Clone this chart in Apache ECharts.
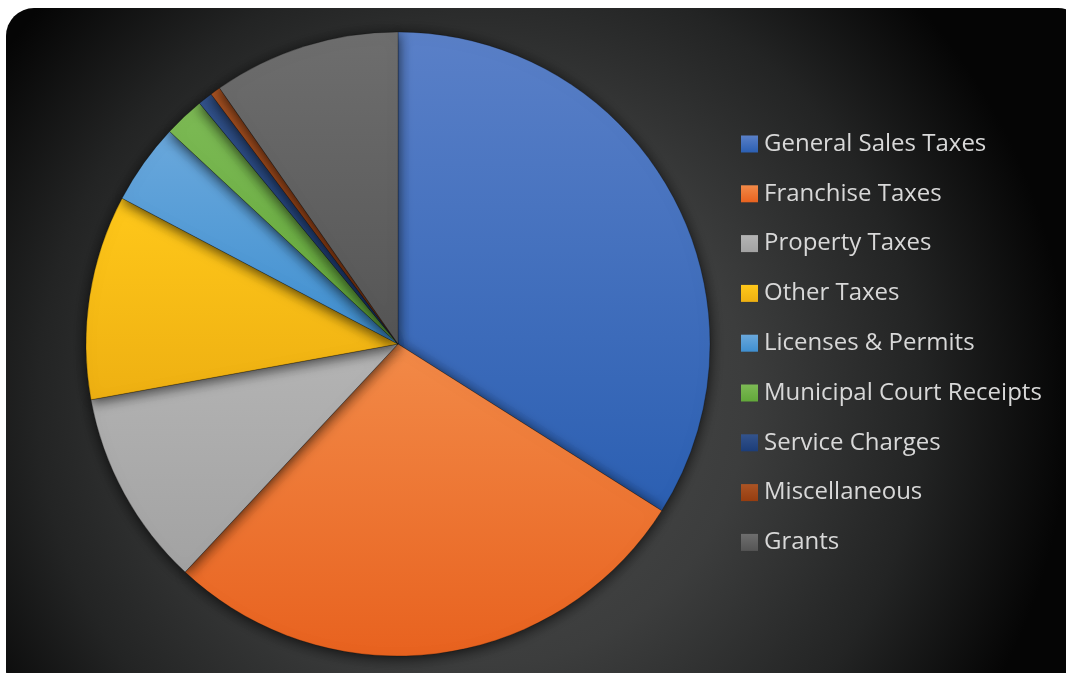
<!DOCTYPE html>
<html>
<head>
<meta charset="utf-8">
<script src="https://cdn.jsdelivr.net/npm/echarts@6/dist/echarts.min.js"></script>
<style>
  html, body { margin: 0; padding: 0; background: #ffffff; }
  #chart { width: 1066px; height: 673px; }
</style>
</head>
<body>
<div id="chart"></div>
<script>
// Revenue sources (share of total, %)
const categories = [
  'General Sales Taxes',
  'Franchise Taxes',
  'Property Taxes',
  'Other Taxes',
  'Licenses & Permits',
  'Municipal Court Receipts',
  'Service Charges',
  'Miscellaneous',
  'Grants'
];
const shares = [34.0, 28.0, 10.2, 10.6, 4.2, 2.1, 0.75, 0.53, 9.7];

// Slice fills: lighter top, darker bottom
const topColors = ['#5a80c8', '#f28a48', '#b4b4b4', '#ffc81a', '#6aa8dc', '#7dba55', '#33538c', '#ab5424', '#6e6e6e'];
const bottomColors = ['#2b5fb2', '#e8621f', '#a2a2a2', '#eeb012', '#3f8fd0', '#62a83a', '#1c3d78', '#963d10', '#555555'];

const chart = echarts.init(document.getElementById('chart'), null, { renderer: 'canvas' });

const data = categories.map((name, i) => ({
  name: name,
  value: shares[i],
  itemStyle: {
    color: new echarts.graphic.LinearGradient(0, 0, 0, 1, [
      { offset: 0, color: topColors[i] },
      { offset: 1, color: bottomColors[i] }
    ])
  }
}));

chart.setOption({
  backgroundColor: '#ffffff',
  animation: false,
  graphic: [{
    type: 'rect',
    z: -10,
    silent: true,
    shape: { x: 6, y: 8, width: 1080, height: 690, r: 28 },
    style: {
      fill: new echarts.graphic.RadialGradient(480, 400, 590, [
        { offset: 0, color: '#4c4d4d' },
        { offset: 0.45, color: '#3c3d3d' },
        { offset: 0.75, color: '#232424' },
        { offset: 1, color: '#050505' }
      ], true)
    }
  }],
  legend: {
    orient: 'vertical',
    left: 741,
    top: 132,
    padding: 0,
    itemWidth: 17,
    itemHeight: 17,
    itemGap: 25.8,
    icon: 'rect',
    selectedMode: false,
    itemStyle: { borderWidth: 0, shadowBlur: 0 },
    textStyle: {
      color: '#d8d8d8',
      fontSize: 24,
      fontFamily: 'Open Sans',
      padding: [0, 0, 0, 1]
    },
    data: categories
  },
  series: [{
    type: 'pie',
    center: [398, 344],
    radius: 312,
    startAngle: 90,
    clockwise: true,
    label: { show: false },
    labelLine: { show: false },
    emphasis: { disabled: true },
    itemStyle: {
      borderColor: 'rgba(0,0,0,0.3)',
      borderWidth: 0.8,
      shadowBlur: 14,
      shadowColor: 'rgba(0,0,0,0.75)',
      shadowOffsetX: 0,
      shadowOffsetY: 2
    },
    data: data
  }]
});
</script>
</body>
</html>
